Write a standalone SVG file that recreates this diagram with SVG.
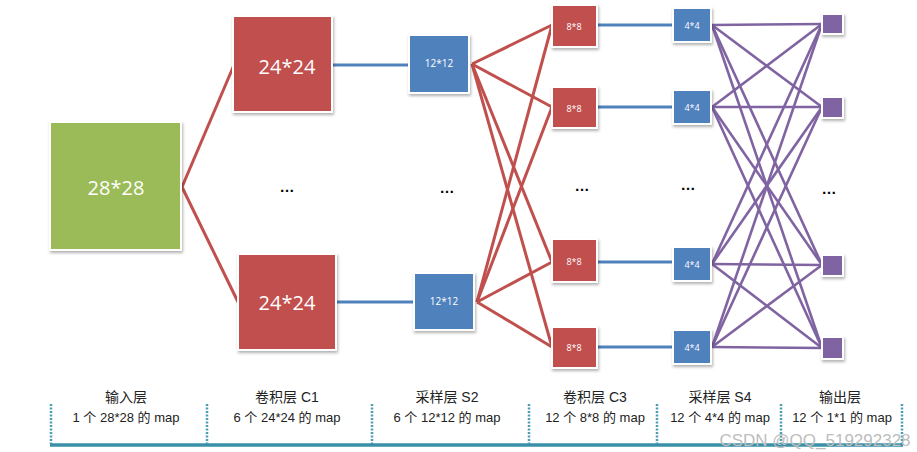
<svg xmlns="http://www.w3.org/2000/svg" width="917" height="452" viewBox="0 0 917 452">
<defs>
<filter id="sh" x="-20%" y="-20%" width="150%" height="150%">
<feDropShadow dx="1" dy="2" stdDeviation="1.5" flood-color="#000" flood-opacity="0.3"/>
</filter>
<style>
.box{stroke:#fff;stroke-width:2;filter:url(#sh)}
.g{fill:#9BBB59}.r{fill:#C0504D}.b{fill:#4F81BD}.p{fill:#8064A2}
.t{fill:#fff;font-family:"Open Sans","Liberation Sans","Noto Sans CJK SC",sans-serif;text-anchor:middle;dominant-baseline:central}
.lr{stroke:#C0504D;stroke-width:3;fill:none}
.lb{stroke:#4F81BD;stroke-width:2.8;fill:none}
.lp{stroke:#8064A2;stroke-width:2.6;fill:none}
.dots{font-family:"Liberation Sans",sans-serif;font-size:15px;font-weight:bold;fill:#000;text-anchor:middle}
.h{font-family:"Liberation Sans","Noto Sans CJK SC",sans-serif;font-size:14px;fill:#222;text-anchor:middle}
.s{font-family:"Liberation Sans","Noto Sans CJK SC",sans-serif;font-size:13px;fill:#222;text-anchor:middle}
.sep{stroke:#4A9FB5;stroke-width:2.5;stroke-dasharray:2 1.5}
</style>
</defs>
<rect width="917" height="452" fill="#fff"/>
<g id="connectors">
<line class="lr" x1="182" y1="187" x2="234" y2="65"/>
<line class="lr" x1="182" y1="187" x2="238" y2="302"/>
<line class="lb" x1="333" y1="65" x2="409" y2="65"/>
<line class="lb" x1="337" y1="302" x2="414" y2="302"/>
<g>
<line class="lr" x1="472" y1="64" x2="552" y2="25"/>
<line class="lr" x1="472" y1="64" x2="552" y2="107"/>
<line class="lr" x1="472" y1="64" x2="552" y2="262"/>
<line class="lr" x1="472" y1="64" x2="552" y2="347"/>
<line class="lr" x1="477" y1="302" x2="552" y2="25"/>
<line class="lr" x1="477" y1="302" x2="552" y2="107"/>
<line class="lr" x1="477" y1="302" x2="552" y2="262"/>
<line class="lr" x1="477" y1="302" x2="552" y2="347"/>
</g>
<line class="lb" x1="598" y1="25" x2="673" y2="25"/>
<line class="lb" x1="598" y1="107" x2="673" y2="107"/>
<line class="lb" x1="598" y1="262" x2="673" y2="262"/>
<line class="lb" x1="598" y1="347" x2="673" y2="347"/>
<g>
<line class="lp" x1="712" y1="25" x2="822" y2="24"/>
<line class="lp" x1="712" y1="25" x2="822" y2="107"/>
<line class="lp" x1="712" y1="25" x2="822" y2="265"/>
<line class="lp" x1="712" y1="25" x2="822" y2="348"/>
<line class="lp" x1="712" y1="107" x2="822" y2="24"/>
<line class="lp" x1="712" y1="107" x2="822" y2="107"/>
<line class="lp" x1="712" y1="107" x2="822" y2="265"/>
<line class="lp" x1="712" y1="107" x2="822" y2="348"/>
<line class="lp" x1="712" y1="264" x2="822" y2="24"/>
<line class="lp" x1="712" y1="264" x2="822" y2="107"/>
<line class="lp" x1="712" y1="264" x2="822" y2="265"/>
<line class="lp" x1="712" y1="264" x2="822" y2="348"/>
<line class="lp" x1="712" y1="347" x2="822" y2="24"/>
<line class="lp" x1="712" y1="347" x2="822" y2="107"/>
<line class="lp" x1="712" y1="347" x2="822" y2="265"/>
<line class="lp" x1="712" y1="347" x2="822" y2="348"/>
</g>
</g>
<g id="input"><rect class="box g" x="50" y="122" width="131" height="128"/><text class="t" x="116" y="187" font-size="20">28*28</text></g>
<g id="c1a"><rect class="box r" x="233" y="16" width="99" height="96"/><text class="t" x="287" y="66" font-size="20">24*24</text></g>
<g id="c1b"><rect class="box r" x="238" y="254" width="98" height="96"/><text class="t" x="287" y="302" font-size="20">24*24</text></g>
<g id="s2a"><rect class="box b" x="409" y="35" width="60" height="58"/><text class="t" x="439" y="63" font-size="10">12*12</text></g>
<g id="s2b"><rect class="box b" x="414" y="273" width="60" height="57"/><text class="t" x="444" y="301" font-size="10">12*12</text></g>
<g id="c3a"><rect class="box r" x="552" y="5" width="45" height="42"/><text class="t" x="574" y="26" font-size="9">8*8</text></g>
<g id="c3b"><rect class="box r" x="552" y="87" width="45" height="41"/><text class="t" x="574" y="108" font-size="9">8*8</text></g>
<g id="c3c"><rect class="box r" x="552" y="239" width="45" height="43"/><text class="t" x="574" y="261" font-size="9">8*8</text></g>
<g id="c3d"><rect class="box r" x="552" y="327" width="45" height="41"/><text class="t" x="574" y="347" font-size="9">8*8</text></g>
<g id="s4a"><rect class="box b" x="673" y="8" width="38" height="34"/><text class="t" x="692" y="25" font-size="9">4*4</text></g>
<g id="s4b"><rect class="box b" x="673" y="90" width="38" height="34"/><text class="t" x="692" y="107" font-size="9">4*4</text></g>
<g id="s4c"><rect class="box b" x="673" y="247" width="38" height="34"/><text class="t" x="692" y="264" font-size="9">4*4</text></g>
<g id="s4d"><rect class="box b" x="673" y="330" width="38" height="34"/><text class="t" x="692" y="347" font-size="9">4*4</text></g>
<g id="o1"><rect class="box p" x="822" y="14" width="21" height="20"/></g>
<g id="o2"><rect class="box p" x="822" y="97" width="21" height="21"/></g>
<g id="o3"><rect class="box p" x="822" y="255" width="21" height="21"/></g>
<g id="o4"><rect class="box p" x="822" y="337" width="21" height="22"/></g>
<g id="ellipses">
<text class="dots" x="287" y="192">…</text>
<text class="dots" x="447" y="193">…</text>
<text class="dots" x="582" y="191">…</text>
<text class="dots" x="688" y="190">…</text>
<text class="dots" x="829" y="194">…</text>
</g>
<g id="legend">
<line class="sep" x1="51" y1="404" x2="51" y2="444"/>
<line class="sep" x1="207" y1="404" x2="207" y2="444"/>
<line class="sep" x1="372" y1="404" x2="372" y2="444"/>
<line class="sep" x1="529" y1="404" x2="529" y2="444"/>
<line class="sep" x1="657" y1="404" x2="657" y2="444"/>
<line class="sep" x1="781" y1="404" x2="781" y2="444"/>
<line class="sep" x1="902" y1="404" x2="902" y2="444"/>
<line x1="50" y1="445" x2="903" y2="445" stroke="#3A90A8" stroke-width="3.5"/>
<text class="h" x="126" y="402">输入层</text>
<text class="s" x="126" y="422">1 个 28*28 的 map</text>
<text class="h" x="287" y="402">卷积层 C1</text>
<text class="s" x="287" y="422">6 个 24*24 的 map</text>
<text class="h" x="447" y="402">采样层 S2</text>
<text class="s" x="447" y="422">6 个 12*12 的 map</text>
<text class="h" x="595" y="402">卷积层 C3</text>
<text class="s" x="595" y="422">12 个 8*8 的 map</text>
<text class="h" x="720" y="402">采样层 S4</text>
<text class="s" x="720" y="422">12 个 4*4 的 map</text>
<text class="h" x="840" y="402">输出层</text>
<text class="s" x="842" y="422">12 个 1*1 的 map</text>
<text x="815" y="446" font-family="Liberation Sans,sans-serif" font-size="17" fill="#bdbdbd" text-anchor="middle">CSDN @QQ_519292328</text>
</g>
</svg>
